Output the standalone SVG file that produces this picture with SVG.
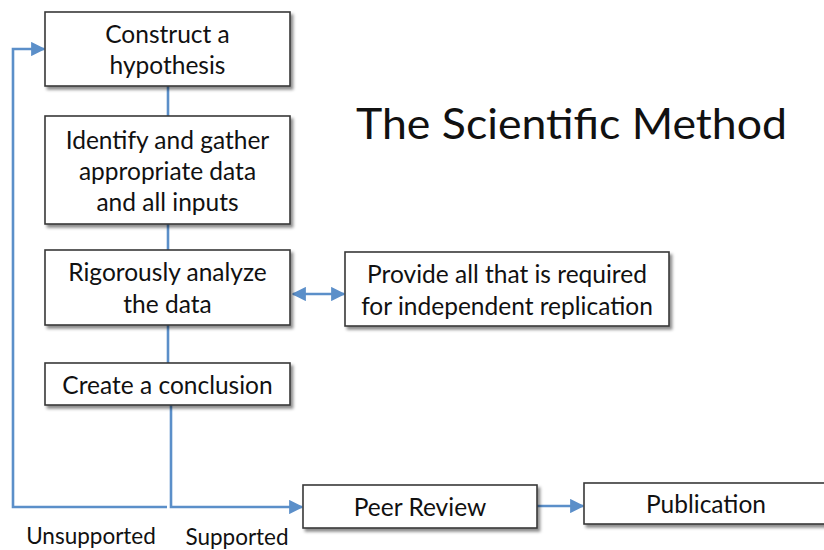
<svg xmlns="http://www.w3.org/2000/svg" width="824" height="550" viewBox="0 0 824 550">
<style>
.box{fill:#fff;stroke:#3a3a3a;stroke-width:1.6;filter:url(#sh)}
.t{font-family:Lato,"Open Sans","Liberation Sans",sans-serif;font-size:24.5px;fill:#111;text-anchor:middle}
.s{font-size:22.5px}
.c{fill:none;stroke:#5b8fc9;stroke-width:2.6}
</style>
<defs>
<filter id="sh" x="-10%" y="-20%" width="130%" height="150%">
<feDropShadow dx="2.5" dy="3" stdDeviation="1.8" flood-color="#000" flood-opacity="0.45"/>
</filter>
<marker id="ah" viewBox="0 0 10 10" refX="9" refY="5" markerWidth="5.5" markerHeight="5.5" orient="auto-start-reverse" markerUnits="strokeWidth">
<path d="M0,0 L10,5 L0,10 z" fill="#5b8fc9"/>
</marker>
</defs>
<g id="connectors">
<line class="c" x1="168" y1="86" x2="168" y2="116"/>
<line class="c" x1="168" y1="224" x2="168" y2="250"/>
<line class="c" x1="168" y1="325" x2="168" y2="363"/>
<polyline class="c" points="167,507 13,507 13,49 44,49" marker-end="url(#ah)"/>
<polyline class="c" points="171,405 171,507 302,507" marker-end="url(#ah)"/>
<line class="c" x1="293" y1="294" x2="344" y2="294" marker-start="url(#ah)" marker-end="url(#ah)"/>
<line class="c" x1="537" y1="506" x2="583" y2="506" marker-end="url(#ah)"/>
</g>
<g id="hypothesis">
<rect class="box" x="45" y="12" width="245" height="74"/>
<text class="t" x="167.5" y="43">Construct a</text>
<text class="t" x="167.5" y="74">hypothesis</text>
</g>
<g id="gather">
<rect class="box" x="45" y="116" width="245" height="108"/>
<text class="t" x="167.5" y="149">Identify and gather</text>
<text class="t" x="167.5" y="180">appropriate data</text>
<text class="t" x="167.5" y="211">and all inputs</text>
</g>
<g id="analyze">
<rect class="box" x="45" y="250" width="245" height="75"/>
<text class="t" x="167.5" y="281">Rigorously analyze</text>
<text class="t" x="167.5" y="313">the data</text>
</g>
<g id="conclusion">
<rect class="box" x="45" y="363" width="245" height="42"/>
<text class="t" x="167.5" y="394">Create a conclusion</text>
</g>
<g id="replication">
<rect class="box" x="345" y="252" width="324" height="74"/>
<text class="t" x="507" y="283">Provide all that is required</text>
<text class="t" x="507" y="315">for independent replication</text>
</g>
<g id="peer-review">
<rect class="box" x="303" y="485" width="234" height="43"/>
<text class="t" x="420" y="516">Peer Review</text>
</g>
<g id="publication">
<rect class="box" x="584" y="483" width="250" height="41"/>
<text class="t" x="706" y="513">Publication</text>
</g>
<g id="labels">
<text class="t s" x="91" y="544">Unsupported</text>
<text class="t s" x="237" y="545">Supported</text>
</g>
<text id="title" x="356" y="139" font-family="Lato,'Open Sans','Liberation Sans',sans-serif" font-size="43" fill="#111" textLength="431" lengthAdjust="spacingAndGlyphs">The Scientific Method</text>
</svg>
